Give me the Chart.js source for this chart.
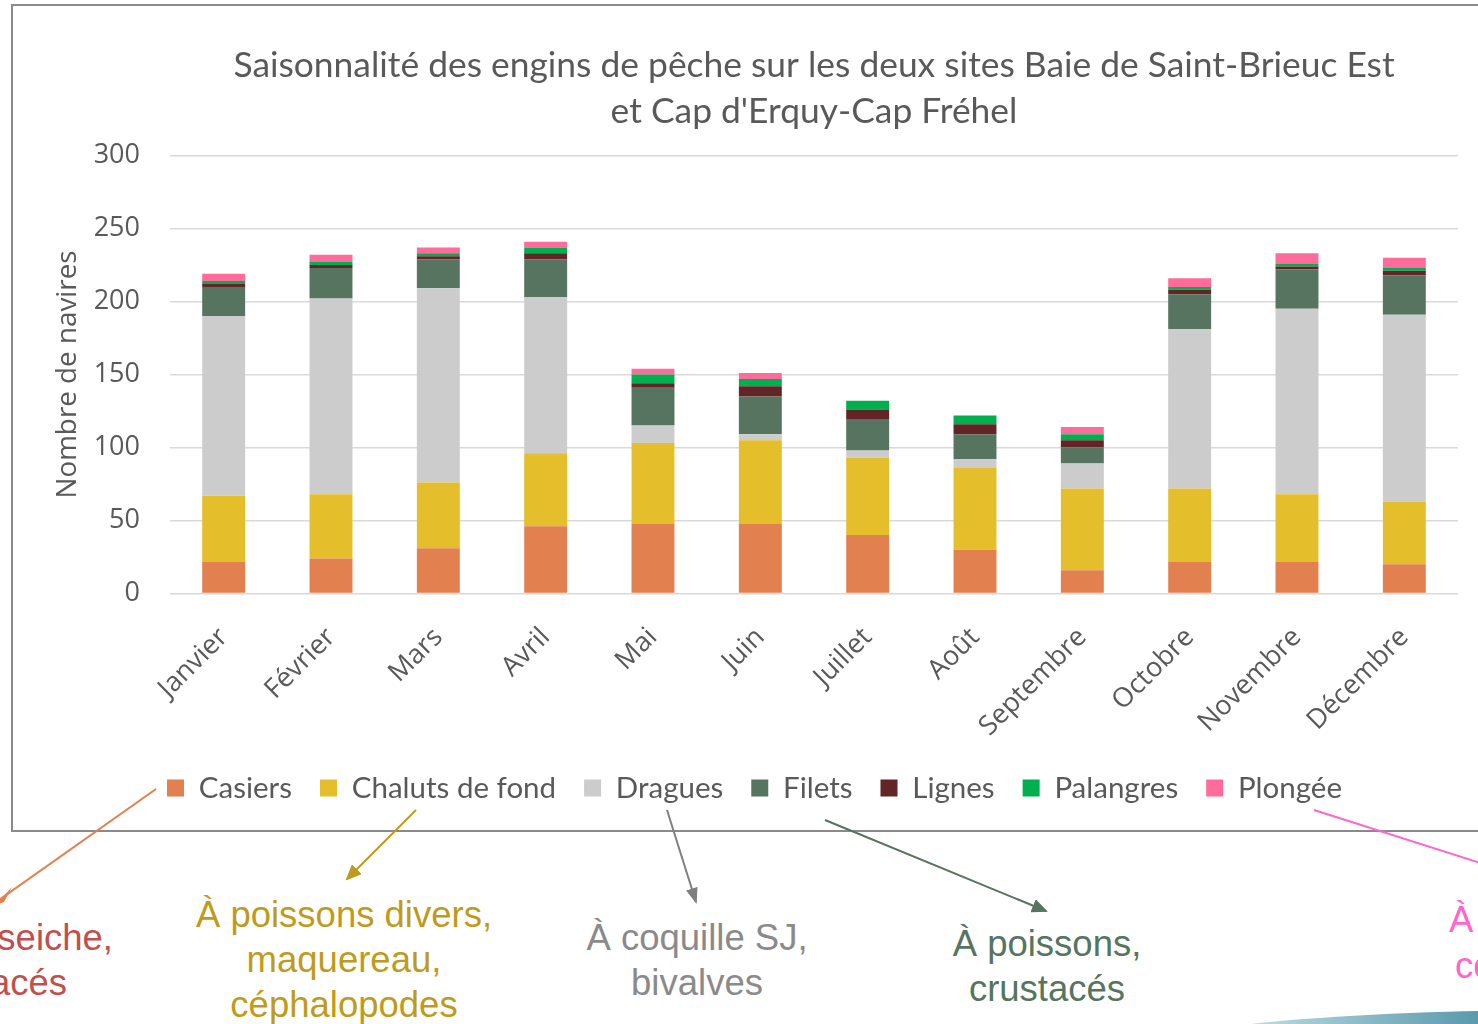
<!DOCTYPE html>
<html lang="fr">
<head>
<meta charset="utf-8">
<title>Saisonnalité des engins de pêche</title>
<script src="https://cdn.jsdelivr.net/npm/chart.js@4.4.1/dist/chart.umd.min.js"></script>
<style>
  html, body { margin: 0; padding: 0; background: #ffffff; }
  body { width: 1478px; height: 1024px; position: relative; overflow: hidden; }
  #frame {
    position: absolute; left: 11px; top: 4px; width: 1600px; height: 828px;
    box-sizing: border-box; border: 2px solid #8a8a8a;
  }
  #chart-box { position: absolute; left: 13px; top: 6px; width: 1488px; height: 824px; }
  .note {
    position: absolute; font-family: "Liberation Sans", Arial, sans-serif;
    font-size: 36.5px; line-height: 45px; white-space: nowrap;
  }
  .center { text-align: center; }
  #arrows { position: absolute; left: 0; top: 0; width: 1478px; height: 1024px; pointer-events: none; }
  #swoosh {
    position: absolute; left: 1150px; top: 1010px; width: 420px; height: 40px;
    border-radius: 100% 0 0 0 / 100% 0 0 0;
    background: linear-gradient(90deg, rgba(225,238,242,0) 0%, #a9cdd6 35%, #5f9db0 75%, #3f8499 100%);
  }
</style>
</head>
<body>
<div id="frame"></div>
<div id="chart-box"><canvas id="chartCanvas"></canvas></div>

<!-- Annotations sous le graphique -->
<div class="note" style="right: 1365px; top: 915px; color: #c0504d; text-align: right;">seiche,</div>
<div class="note" style="right: 1411px; top: 960px; color: #c0504d; text-align: right;">crustacés</div>
<div class="note" style="left: 1449px; top: 897px; color: #ff66cc;">À</div>
<div class="note" style="left: 1455px; top: 943px; color: #ff66cc;">co</div>
<div class="note center" style="left: 144px; width: 400px; top: 892px; color: #bf9b1b;">À poissons divers,<br>maquereau,<br>céphalopodes</div>
<div class="note center" style="left: 497px; width: 400px; top: 915px; color: #8a8a8a;">À coquille SJ,<br>bivalves</div>
<div class="note center" style="left: 847px; width: 400px; top: 921px; color: #56745f;">À poissons,<br>crustacés</div>
<div id="swoosh"></div>

<svg id="arrows" viewBox="0 0 1478 1024">
  <defs>
    <marker id="head-gold" markerWidth="16" markerHeight="14" refX="14" refY="7" orient="auto" markerUnits="userSpaceOnUse">
      <path d="M0,0 L16,7 L0,14 z" fill="#bf9b1b"/>
    </marker>
    <marker id="head-grey" markerWidth="16" markerHeight="12" refX="14" refY="6" orient="auto" markerUnits="userSpaceOnUse">
      <path d="M0,0 L16,6 L0,12 z" fill="#7f7f7f"/>
    </marker>
    <marker id="head-green" markerWidth="16" markerHeight="14" refX="14" refY="7" orient="auto" markerUnits="userSpaceOnUse">
      <path d="M0,0 L16,7 L0,14 z" fill="#56745f"/>
    </marker>
  </defs>
  <line x1="156" y1="789" x2="-4" y2="902" stroke="#e2804f" stroke-width="2"/>
  <path d="M-6,906 L12,887 L4,902 z" fill="#e2804f"/>
  <line x1="416" y1="810" x2="347" y2="879" stroke="#bf9b1b" stroke-width="2" marker-end="url(#head-gold)"/>
  <line x1="667" y1="810" x2="696" y2="902" stroke="#7f7f7f" stroke-width="2" marker-end="url(#head-grey)"/>
  <line x1="825" y1="820" x2="1046" y2="911" stroke="#56745f" stroke-width="2" marker-end="url(#head-green)"/>
  <line x1="1314" y1="810" x2="1490" y2="866" stroke="#ff66cc" stroke-width="2"/>
</svg>

<script>
// Données
const mois = ['Janvier', 'Février', 'Mars', 'Avril', 'Mai', 'Juin', 'Juillet', 'Août', 'Septembre', 'Octobre', 'Novembre', 'Décembre'];
const casiers = [22, 24, 31, 46, 48, 48, 40, 30, 16, 22, 22, 20];
const chalutsDeFond = [45, 44, 45, 50, 55, 57, 53, 56, 56, 50, 46, 43];
const dragues = [123, 134, 133, 107, 12, 4, 5, 6, 17, 109, 127, 128];
const filets = [20, 21, 20, 26, 26, 26, 21, 17, 11, 24, 27, 27];
const lignes = [2, 2, 2, 4, 3, 7, 7, 7, 5, 3, 2, 3];
const palangres = [2, 2, 2, 4, 6, 5, 6, 6, 4, 2, 2, 2];
const plongee = [5, 5, 4, 4, 4, 4, 0, 0, 5, 6, 7, 7];

const yMin = 0;
const yMax = 300;
const yStep = 50;

const texte = '#595959';

function serie(label, data, couleur) {
    return {
        label: label,
        data: data,
        backgroundColor: couleur,
        borderWidth: 0,
        barPercentage: 0.5,
        categoryPercentage: 0.8
    };
}

const ctx = document.getElementById('chartCanvas').getContext('2d');
const chart = new Chart(ctx, {
    type: 'bar',
    data: {
        labels: mois,
        datasets: [
            serie('Casiers', casiers, '#e2804f'),
            serie('Chaluts de fond', chalutsDeFond, '#e5be2b'),
            serie('Dragues', dragues, '#cccccc'),
            serie('Filets', filets, '#56745f'),
            serie('Lignes', lignes, '#622424'),
            serie('Palangres', palangres, '#00b050'),
            serie('Plongée', plongee, '#ff6b9a')
        ]
    },
    options: {
        responsive: true,
        maintainAspectRatio: false,
        animation: false,
        layout: {
            padding: { left: 38, right: 43, top: 0, bottom: 17.25 }
        },
        plugins: {
            title: {
                display: true,
                fullSize: false,
                text: ['Saisonnalité des engins de pêche sur les deux sites Baie de Saint-Brieuc Est', "et Cap d'Erquy-Cap Fréhel"],
                color: texte,
                font: { family: 'Lato', size: 35.4, weight: 'normal', lineHeight: 46 / 35.4 },
                padding: { top: 37, bottom: 20.5 }
            },
            legend: {
                position: 'bottom',
                labels: {
                    color: texte,
                    font: { family: 'Lato', size: 29.5 },
                    boxWidth: 17,
                    boxHeight: 17,
                    padding: 28
                }
            },
            tooltip: { enabled: false }
        },
        scales: {
            x: {
                stacked: true,
                grid: { display: false, drawTicks: false },
                border: { display: false },
                ticks: {
                    color: texte,
                    font: { family: 'Open Sans', size: 27 },
                    minRotation: 45,
                    maxRotation: 45,
                    autoSkip: false,
                    padding: 28
                },
                afterFit: (scale) => { scale.height = 151.75; }
            },
            y: {
                stacked: true,
                min: yMin,
                max: yMax,
                ticks: {
                    stepSize: yStep,
                    color: texte,
                    font: { family: 'Open Sans', size: 27 },
                    padding: 30
                },
                grid: { color: '#d9d9d9', lineWidth: 1.5, drawTicks: false },
                border: { display: false },
                title: {
                    display: true,
                    text: 'Nombre de navires',
                    color: texte,
                    font: { family: 'Open Sans', size: 27.8 },
                    padding: { top: 0, bottom: 0 }
                },
                afterFit: (scale) => { scale.width = 119; }
            }
        }
    }
});
</script>
</body>
</html>
